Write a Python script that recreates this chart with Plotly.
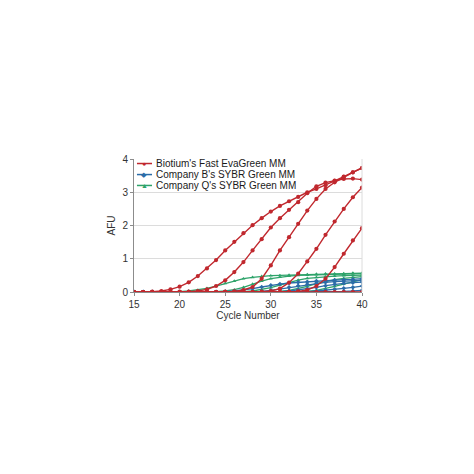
import plotly.graph_objects as go

# ciclos 15..40
cycles = list(range(15, 41))

# Biotium's Fast EvaGreen MM (rojo)
red_1 = [0, 0, 0.01, 0.03, 0.08, 0.16, 0.29, 0.48, 0.71, 0.96, 1.25, 1.51, 1.77,
         2.01, 2.22, 2.42, 2.59, 2.73, 2.86, 3.0, 3.1, 3.21, 3.34, 3.47, 3.6, 3.73]
red_2 = [0, 0, 0, 0, 0, 0.01, 0.01, 0.03, 0.08, 0.18, 0.35, 0.6, 0.9,
         1.25, 1.59, 1.94, 2.22, 2.47, 2.7, 2.97, 3.18, 3.29, 3.35, 3.4, 3.41, 3.38]
red_3 = [0, 0, 0, 0, 0, 0, 0, 0, 0, 0, 0.01, 0.02, 0.06,
         0.15, 0.4, 0.8, 1.25, 1.65, 2.05, 2.45, 2.8, 3.1, 3.3, 3.46, 3.6, 3.73]
red_4 = [0, 0, 0, 0, 0, 0, 0, 0, 0, 0, 0, 0, 0,
         0, 0.01, 0.03, 0.1, 0.28, 0.55, 0.92, 1.3, 1.72, 2.12, 2.5, 2.85, 3.14]
red_5 = [0, 0, 0, 0, 0, 0, 0, 0, 0, 0, 0, 0, 0,
         0, 0, 0, 0, 0.01, 0.02, 0.06, 0.18, 0.4, 0.75, 1.15, 1.55, 1.92]
red_6 = [0] * 26

# Company B's SYBR Green MM (azul)
blue_1 = [0, 0, 0, 0, 0, 0, 0, 0, 0, 0, 0.01, 0.03, 0.06,
          0.1, 0.15, 0.2, 0.24, 0.27, 0.29, 0.31, 0.33, 0.34, 0.36, 0.37, 0.38, 0.4]
blue_2 = [0, 0, 0, 0, 0, 0, 0, 0, 0, 0, 0, 0, 0,
          0.01, 0.02, 0.05, 0.09, 0.14, 0.19, 0.23, 0.27, 0.29, 0.31, 0.33, 0.34, 0.35]
blue_3 = [0, 0, 0, 0, 0, 0, 0, 0, 0, 0, 0, 0, 0,
          0, 0, 0, 0.01, 0.03, 0.06, 0.1, 0.14, 0.19, 0.23, 0.26, 0.28, 0.3]
blue_4 = [0, 0, 0, 0, 0, 0, 0, 0, 0, 0, 0, 0, 0,
          0, 0, 0, 0, 0, 0, 0.01, 0.03, 0.05, 0.08, 0.11, 0.14, 0.18]
blue_5 = [0, 0, 0, 0, 0, 0, 0, 0, 0, 0, 0, 0, 0,
          0, 0, 0, 0, 0, 0, 0, 0, 0, 0.01, 0.02, 0.03, 0.05]

# Company Q's SYBR Green MM (verde)
green_1 = [0, 0, 0, 0, 0.01, 0.01, 0.03, 0.06, 0.11, 0.18, 0.26, 0.33, 0.4,
           0.44, 0.47, 0.49, 0.5, 0.51, 0.52, 0.53, 0.54, 0.55, 0.55, 0.56, 0.57, 0.57]
green_2 = [0, 0, 0, 0, 0, 0, 0, 0, 0, 0.01, 0.03, 0.07, 0.14,
           0.24, 0.33, 0.4, 0.45, 0.48, 0.5, 0.51, 0.52, 0.53, 0.53, 0.54, 0.55, 0.55]
green_3 = [0, 0, 0, 0, 0, 0, 0, 0, 0, 0, 0, 0, 0.01,
           0.03, 0.07, 0.13, 0.21, 0.29, 0.36, 0.41, 0.44, 0.46, 0.48, 0.49, 0.5, 0.51]
green_4 = [0, 0, 0, 0, 0, 0, 0, 0, 0, 0, 0, 0, 0,
           0, 0, 0.01, 0.02, 0.05, 0.1, 0.17, 0.25, 0.32, 0.37, 0.41, 0.44, 0.46]
green_5 = [0, 0, 0, 0, 0, 0, 0, 0, 0, 0, 0, 0, 0,
           0, 0, 0, 0, 0, 0.01, 0.02, 0.05, 0.1, 0.17, 0.24, 0.31, 0.37]

legend_names = ["Biotium's Fast EvaGreen MM", "Company B's SYBR Green MM",
                "Company Q's SYBR Green MM"]

RED = "#c0282e"
BLUE = "#2b6ca8"
GREEN = "#2ea36a"

fig = go.Figure()

def add_group(series, color, symbol, size, width):
    for ys in series:
        fig.add_trace(go.Scatter(
            x=cycles, y=ys, mode="lines+markers",
            line=dict(color=color, width=width),
            marker=dict(color=color, symbol=symbol, size=size),
            showlegend=False
        ))

add_group([green_1, green_2, green_3, green_4, green_5], GREEN, "triangle-up", 3.5, 1.3)
add_group([blue_1, blue_2, blue_3, blue_4, blue_5], BLUE, "diamond", 3.5, 1.3)
add_group([red_1, red_2, red_3, red_4, red_5, red_6], RED, "circle", 4.2, 1.4)

# leyenda compacta hecha a mano
rows_y = [0.966, 0.883, 0.801]
glyphs = ["\u25cf", "\u25c6", "\u25b2"]
colors = [RED, BLUE, GREEN]
for name, gy, glyph, col in zip(legend_names, rows_y, glyphs, colors):
    fig.add_shape(type="line", xref="paper", yref="paper",
                  x0=0.013, x1=0.079, y0=gy, y1=gy,
                  line=dict(color=col, width=1.5))
    fig.add_annotation(xref="paper", yref="paper", x=0.046, y=gy,
                       text=glyph, showarrow=False, borderpad=0,
                       font=dict(color=col, size=7), xanchor="center", yanchor="middle")
    fig.add_annotation(xref="paper", yref="paper", x=0.092, y=gy,
                       text=name, showarrow=False, borderpad=0,
                       font=dict(color="#1a1a1a", size=10), xanchor="left", yanchor="middle")

# borde derecho tenue
fig.add_shape(type="line", xref="x domain", yref="y domain",
              x0=1, x1=1, y0=0, y1=1, line=dict(color="#dcdcdc", width=1))

fig.update_layout(
    width=474, height=474,
    margin=dict(l=126, r=120, t=151, b=190),
    paper_bgcolor="white", plot_bgcolor="white",
    font=dict(family="Liberation Sans, Arial, sans-serif", size=10, color="#333333"),
    xaxis=dict(range=[15, 40], dtick=5, showgrid=False, zeroline=False,
               showline=True, linecolor="#8c8c8c", linewidth=1,
               ticks="outside", ticklen=3, tickcolor="#8c8c8c",
               title=dict(text="Cycle Number", font=dict(size=10, color="#333333"), standoff=2)),
    yaxis=dict(range=[0, 4], dtick=1, showgrid=True, gridcolor="#dcdcdc", zeroline=False,
               showline=True, linecolor="#8c8c8c", linewidth=1,
               ticks="outside", ticklen=3, tickcolor="#8c8c8c",
               title=dict(text="AFU", font=dict(size=10, color="#333333"), standoff=4)),
)

fig.write_html("out.html")
